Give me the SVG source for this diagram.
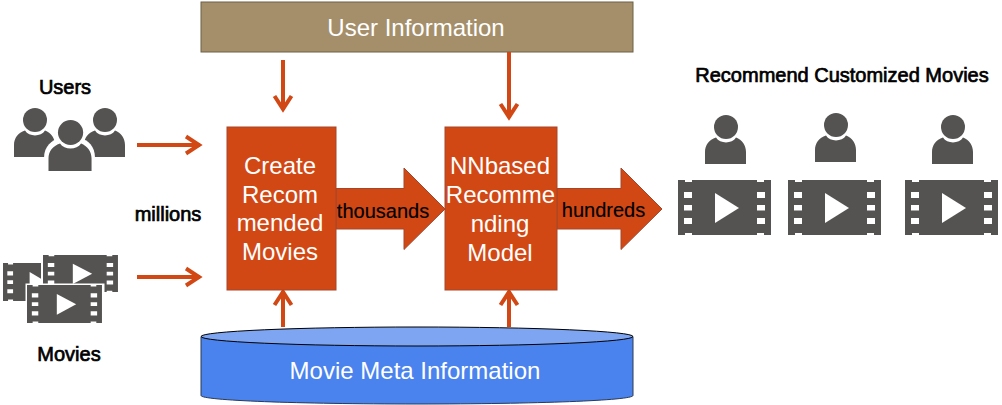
<svg xmlns="http://www.w3.org/2000/svg" width="1002" height="405" viewBox="0 0 1002 405">
<style>
text{font-family:"Liberation Sans",Arial,sans-serif}
.w{fill:#fff;font-size:24px;text-anchor:middle}
.b{fill:#000;font-size:20px;stroke:#000;stroke-width:.7px;text-anchor:middle}
.k{fill:#000;font-size:20px;text-anchor:middle;stroke:#000;stroke-width:.15px}
.box{fill:#d24815;stroke:#a5462a;stroke-width:1}
.ln{stroke:#d24815;stroke-width:4;fill:none}
.ic{fill:#555352}
</style>
<defs>
<marker id="ah" markerUnits="userSpaceOnUse" markerWidth="22" markerHeight="24" refX="17" refY="10" orient="auto" viewBox="0 0 22 20">
<path d="M3 1.500L16 10L3 18.500" fill="none" stroke="#d24815" stroke-width="4"/>
</marker>
<g id="person">
<circle cx="21" cy="12" r="12" class="ic"/>
<path class="ic" d="M0 49V37C0 30 4 25 11 22.500C15 29 27 29 31 22.500C37 25 41 30 41 37V49Z"/>
</g>
<path id="film" class="ic" fill-rule="evenodd" d="M0 0H7V2H14V0H79V2H86V0H93V55H86V53H79V55H14V53H7V55H0Z M6 12V18H14V12Z M6 25V30.500H14V25Z M6 38V44H14V38Z M79 12V18H87V12Z M79 25V30.500H87V25Z M79 38V44H87V38Z"/>
<path id="play" fill="#fff" d="M37 13L61 28L37 43Z"/>
</defs>
<rect width="1002" height="405" fill="#fff"/>

<g id="user-information">
<rect x="201" y="2" width="432" height="50" fill="#a58f6b" stroke="#6d6047" stroke-width="1"/>
<text class="w" x="416" y="36">User Information</text>
</g>

<g id="movie-meta-information">
<path d="M201 336.500V395.500C201 400.500 298 404 417 404S633 400.500 633 395.500V336.500Z" fill="#4a83ee" stroke="#2c3a55" stroke-width="1"/>
<ellipse cx="417" cy="336.500" rx="216" ry="9.500" fill="#7ea5f2" stroke="#000" stroke-width="1"/>
<text class="w" x="415" y="379">Movie Meta Information</text>
</g>

<g id="connectors">
<line class="ln" x1="137" y1="145" x2="200" y2="145" marker-end="url(#ah)"/>
<line class="ln" x1="137" y1="277" x2="200" y2="277" marker-end="url(#ah)"/>
<line class="ln" x1="283" y1="60" x2="283" y2="110" marker-end="url(#ah)"/>
<line class="ln" x1="509" y1="52" x2="509" y2="118" marker-end="url(#ah)"/>
<line class="ln" x1="283" y1="327" x2="283" y2="291" marker-end="url(#ah)"/>
<line class="ln" x1="509" y1="327" x2="509" y2="291" marker-end="url(#ah)"/>
</g>

<g id="arrow-thousands">
<path d="M336 188.500H404V168L445 209L404 249.500V229H336Z" class="box"/>
<text class="k" x="383" y="218">thousands</text>
</g>
<g id="arrow-hundreds">
<path d="M557 188.500H621V168L662 209L621 249.500V229H557Z" class="box"/>
<text class="k" x="603.500" y="217">hundreds</text>
</g>

<g id="create-recommended-movies">
<rect x="227" y="127" width="109" height="163" class="box"/>
<text class="w" x="280" y="174">Create</text>
<text class="w" x="280" y="203">Recom</text>
<text class="w" x="280" y="231">mended</text>
<text class="w" x="280" y="260">Movies</text>
</g>
<g id="nn-model">
<rect x="445" y="127" width="112" height="163" class="box"/>
<text class="w" x="500" y="174">NNbased</text>
<text class="w" x="500.500" y="203">Recomme</text>
<text class="w" x="500" y="232">nding</text>
<text class="w" x="500" y="261">Model</text>
</g>

<g id="users">
<text class="b" x="65" y="94">Users</text>
<use href="#person" transform="translate(14 108)"/>
<use href="#person" transform="translate(84 108)"/>
<path d="M44 174V158C44 146 52 140 60 138H80C88 140 95 146 95 158V174Z" fill="#fff"/>
<circle cx="70" cy="132" r="14.500" fill="#fff"/>
<use href="#person" transform="translate(48.500 120) scale(1.050 1.040)"/>
</g>

<g id="movies">
<text class="b" x="69" y="361">Movies</text>
<g transform="translate(3 263) scale(.72 .69)"><use href="#film"/><use href="#play"/></g>
<rect x="41" y="253" width="79" height="41" fill="#fff"/>
<g transform="translate(43 255) scale(.806 .673)"><use href="#film"/><use href="#play"/></g>
<rect x="25.500" y="283.500" width="79" height="41" fill="#fff"/>
<g transform="translate(27 285) scale(.806 .691)"><use href="#film"/><use href="#play"/></g>
</g>

<g id="recommend-customized-movies">
<text class="b" x="842" y="82">Recommend Customized Movies</text>
</g>
<g id="rec-1">
<use href="#person" x="705" y="115"/>
<use href="#film" x="678" y="180"/><use href="#play" x="678" y="180"/>
</g>
<g id="rec-2">
<use href="#person" x="815" y="113"/>
<use href="#film" x="788" y="180"/><use href="#play" x="788" y="180"/>
</g>
<g id="rec-3">
<use href="#person" x="932" y="115"/>
<use href="#film" x="905" y="180"/><use href="#play" x="905" y="180"/>
</g>

<g id="millions">
<text class="b" x="168" y="221">millions</text>
</g>
</svg>
